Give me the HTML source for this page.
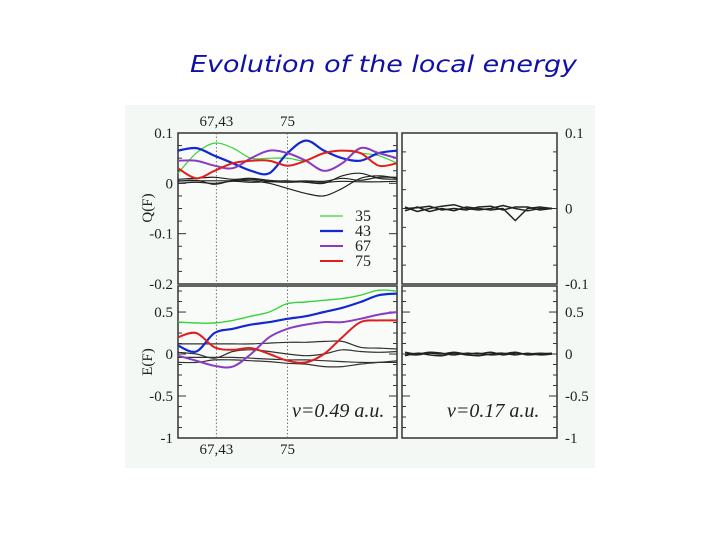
<!DOCTYPE html>
<html><head><meta charset="utf-8"><style>
html,body{margin:0;padding:0;background:#fff;width:720px;height:540px;overflow:hidden}
svg{display:block}
text{font-family:"Liberation Serif",serif;fill:#222}
</style></head><body>
<svg id="chart" width="720" height="540" viewBox="0 0 720 540">
<text x="190" y="72" textLength="387" lengthAdjust="spacingAndGlyphs" style="font-family:'DejaVu Sans',sans-serif;font-style:italic;font-size:23px;fill:#1010a8">Evolution of the local energy</text>
<rect x="125" y="105" width="470" height="363" fill="#f4f8f4"/>
<g id="plots"></g>
</svg>
<script>
// x sample positions (fraction of panel width) shared by left-panel series
const xs = [0,1,2,3,4,5,6,7,8,9,10,11,12];
// Top-left Q(F) series
const q35 = [0.02,0.06,0.08,0.07,0.05,0.05,0.05,0.045,0.06,0.065,0.06,0.055,0.04];
const q43 = [0.065,0.07,0.055,0.04,0.025,0.02,0.06,0.085,0.065,0.05,0.045,0.06,0.065];
const q67 = [0.045,0.045,0.035,0.03,0.05,0.065,0.06,0.045,0.025,0.04,0.07,0.06,0.05];
const q75 = [0.03,0.01,0.025,0.04,0.045,0.045,0.035,0.045,0.06,0.065,0.06,0.035,0.04];
const qBlackA = [0.005,0.005,0.005,0.005,0.005,0.0,-0.01,-0.02,-0.025,-0.01,0.01,0.015,0.01];
const qBlackB = [0.008,0.01,0.012,0.008,0.01,0.006,0.004,0.005,0.004,0.01,0.006,0.012,0.012];
const qBlackC = [0.0,0.002,0.0,0.004,0.002,0.003,0.002,0.003,0.002,0.004,0.003,0.003,0.004];
const qBlackD = [0.004,0.006,-0.002,0.006,0.008,0.004,0.005,0.002,0.0,0.015,0.02,0.01,0.008];
// Bottom-left E(F) series
const e35 = [0.38,0.37,0.37,0.4,0.45,0.5,0.6,0.62,0.64,0.66,0.7,0.76,0.75];
const e43 = [0.1,0.03,0.25,0.3,0.35,0.38,0.42,0.45,0.5,0.55,0.62,0.7,0.72];
const e67 = [-0.02,-0.08,-0.14,-0.15,0.0,0.2,0.3,0.35,0.38,0.38,0.42,0.47,0.5];
const e75 = [0.2,0.25,0.08,0.05,0.07,0.0,-0.08,-0.1,0.0,0.2,0.38,0.4,0.4];
const eBlackA = [0.12,0.12,0.12,0.12,0.12,0.13,0.14,0.14,0.15,0.15,0.08,0.07,0.06];
const eBlackB = [0.02,0.0,-0.05,0.03,0.05,0.03,0.0,-0.02,0.0,0.05,0.03,0.02,0.03];
const eBlackC = [-0.1,-0.1,-0.07,-0.07,-0.08,-0.09,-0.11,-0.12,-0.15,-0.15,-0.12,-0.1,-0.08];
const eBlackD = [-0.04,-0.04,-0.04,-0.04,-0.05,-0.06,-0.07,-0.07,-0.08,-0.09,-0.1,-0.1,-0.1];
// Right panels (v=0.17) small fluctuations
const rxs = [0,1,2,3,4,5,6,7,8,9,10,11,12];
const rqA = [0.002,-0.004,0.0,0.003,0.005,0.0,-0.002,0.0,0.004,0.0,-0.003,0.0,0.0];
const rqB = [-0.003,0.002,-0.004,0.0,-0.003,0.002,0.0,-0.002,0.0,-0.016,0.0,0.002,0.0];
const rqC = [0.0,0.001,0.003,-0.002,0.0,-0.002,0.002,0.003,-0.002,0.002,0.002,-0.002,0.0];
const reA = [0.02,0.0,0.02,0.01,-0.01,0.01,0.0,0.02,-0.01,0.01,0.0,0.01,0.0];
const reB = [-0.02,0.01,-0.01,-0.02,0.01,-0.01,-0.02,0.0,0.01,-0.01,0.01,-0.01,0.0];
const reC = [0.0,-0.01,0.01,0.0,0.02,0.0,0.01,-0.01,0.0,0.02,-0.01,0.0,0.01];
const qTicksL = [0.1,0,-0.1,-0.2];
const qTicksR = [0.1,0,-0.1];
const eTicks = [0.5,0,-0.5,-1];
const markLabels = ['67,43','75'];
const markPos = [2.1,6];

const NS='http://www.w3.org/2000/svg';
const g=document.getElementById('plots');
function el(t,a,p){const e=document.createElementNS(NS,t);for(const k in a)e.setAttribute(k,a[k]);(p||g).appendChild(e);return e;}
function fmt(v){return v===0?'0':String(v);}

const panels={
 tl:{x0:178,x1:397,y0:133,y1:284,ymin:-0.2,ymax:0.1},
 tr:{x0:402,x1:557,y0:133,y1:284,ymin:-0.1,ymax:0.1},
 bl:{x0:178,x1:397,y0:286,y1:438,ymin:-1,ymax:0.81},
 br:{x0:402,x1:557,y0:286,y1:438,ymin:-1,ymax:0.81}
};
function X(p,i){return p.x0+(p.x1-p.x0)*i/12;}
function RX(p,i){return p.x0+3+(p.x1-p.x0-8)*i/12;}
function Y(p,v){return p.y1-(v-p.ymin)/(p.ymax-p.ymin)*(p.y1-p.y0);}

function frame(p,name){
  const r=el('rect',{x:p.x0,y:p.y0,width:p.x1-p.x0,height:p.y1-p.y0,fill:'#f9fbf9',stroke:'#333','stroke-width':1.5});
  
  
}
function ticks(p,major,minorStep,side){
  for(let v=p.ymin;v<=p.ymax+1e-9;v+=minorStep){
    const y=Y(p,v);const isMaj=major.some(m=>Math.abs(m-v)<1e-6);const len=isMaj?8:4;
    el('line',{x1:p.x0,x2:p.x0+len,y1:y,y2:y,stroke:'#333','stroke-width':1});
    el('line',{x1:p.x1,x2:p.x1-len,y1:y,y2:y,stroke:'#333','stroke-width':1});
  }
  major.forEach(v=>{
    const t=el('text',{x:side==='left'?p.x0-5:p.x1+8,y:Y(p,v)+5,'text-anchor':side==='left'?'end':'start','font-size':15});
    t.textContent=fmt(v);
    
    
  });
}
function line(p,arr,xsArr,color,w,name,rx,sharp){
  const pts=arr.map((v,i)=>[(rx?RX(p,xsArr[i]):X(p,xsArr[i])),Y(p,v)]);
  let d='M'+pts[0][0].toFixed(1)+','+pts[0][1].toFixed(1);
  for(let i=0;i<pts.length-1;i++){
    if(sharp){d+=' L'+pts[i+1][0].toFixed(1)+','+pts[i+1][1].toFixed(1);continue;}
    const p0=pts[i-1]||pts[i],p1=pts[i],p2=pts[i+1],p3=pts[i+2]||pts[i+1];
    const c1=[p1[0]+(p2[0]-p0[0])/6,p1[1]+(p2[1]-p0[1])/6];
    const c2=[p2[0]-(p3[0]-p1[0])/6,p2[1]-(p3[1]-p1[1])/6];
    d+=' C'+c1[0].toFixed(1)+','+c1[1].toFixed(1)+' '+c2[0].toFixed(1)+','+c2[1].toFixed(1)+' '+p2[0].toFixed(1)+','+p2[1].toFixed(1);
  }
  const e=el('path',{d:d,fill:'none',stroke:color,'stroke-width':w,'stroke-linejoin':'round'});
  
  
}
function vmarks(p){
  markPos.forEach(m=>{el('line',{x1:X(p,m),x2:X(p,m),y1:p.y0,y2:p.y1,stroke:'#555','stroke-width':0.8,'stroke-dasharray':'1.5,2'});});
}

frame(panels.tl,'q-left-panel');frame(panels.tr,'q-right-panel');
frame(panels.bl,'e-left-panel');frame(panels.br,'e-right-panel');
ticks(panels.tl,qTicksL,0.025,'left');ticks(panels.tr,qTicksR,0.025,'right');
ticks(panels.bl,eTicks,0.125,'left');ticks(panels.br,eTicks,0.125,'right');
vmarks(panels.tl);vmarks(panels.bl);

const P=panels.tl;
[qBlackA,qBlackB,qBlackC,qBlackD].forEach((a,i)=>line(P,a,xs,'#222',1.2,'q-black-line-'+i));
line(P,q35,xs,'#3ad23a',1.2,'q-series-35');
line(P,q43,xs,'#1428d2',2.2,'q-series-43');
line(P,q67,xs,'#8a3cc0',2,'q-series-67');
line(P,q75,xs,'#e01e1e',2,'q-series-75');
const B=panels.bl;
[eBlackA,eBlackB,eBlackC,eBlackD].forEach((a,i)=>line(B,a,xs,'#333',1.2,'e-black-line-'+i));
line(B,e35,xs,'#3ad23a',1.4,'e-series-35');
line(B,e43,xs,'#1428d2',2.2,'e-series-43');
line(B,e67,xs,'#8a3cc0',2,'e-series-67');
line(B,e75,xs,'#e01e1e',2,'e-series-75');
[rqA,rqB,rqC].forEach((a,i)=>line(panels.tr,a,rxs,'#222',1.5,'q-right-line-'+i,true,true));
[reA,reB,reC].forEach((a,i)=>line(panels.br,a,rxs,'#222',1.5,'e-right-line-'+i,true));

// legend
const leg=[['35','#3ad23a',1.2],['43','#1428d2',2.2],['67','#8a3cc0',2],['75','#e01e1e',2]];
leg.forEach((l,i)=>{
  const y=216+i*15;
  const ln=el('line',{x1:320,x2:343,y1:y,y2:y,stroke:l[1],'stroke-width':l[2]});
  
  
  const t=el('text',{x:355,y:y+5,'font-size':16});
  t.textContent=l[0];
  
  
});

// mark labels top and bottom
markLabels.forEach((s,i)=>{
  [126,454].forEach(y=>{
    const t=el('text',{x:X(P,markPos[i]),y:y,'text-anchor':'middle','font-size':15});
    t.textContent=s;
    
    
  });
});
// axis titles
[['Q(F)',208],['E(F)',362]].forEach(a=>{
  const t=el('text',{x:0,y:0,'text-anchor':'middle','font-size':15,transform:'translate(152,'+a[1]+') rotate(-90)'});
  t.textContent=a[0];
  
  
});
// velocity annotations
[['v=0.49 a.u.',292],['v=0.17 a.u.',447]].forEach(a=>{
  const t=el('text',{x:a[1],y:417,'font-size':20,'font-style':'italic'});
  t.textContent=a[0];
  
  
});
</script>
</body></html>
